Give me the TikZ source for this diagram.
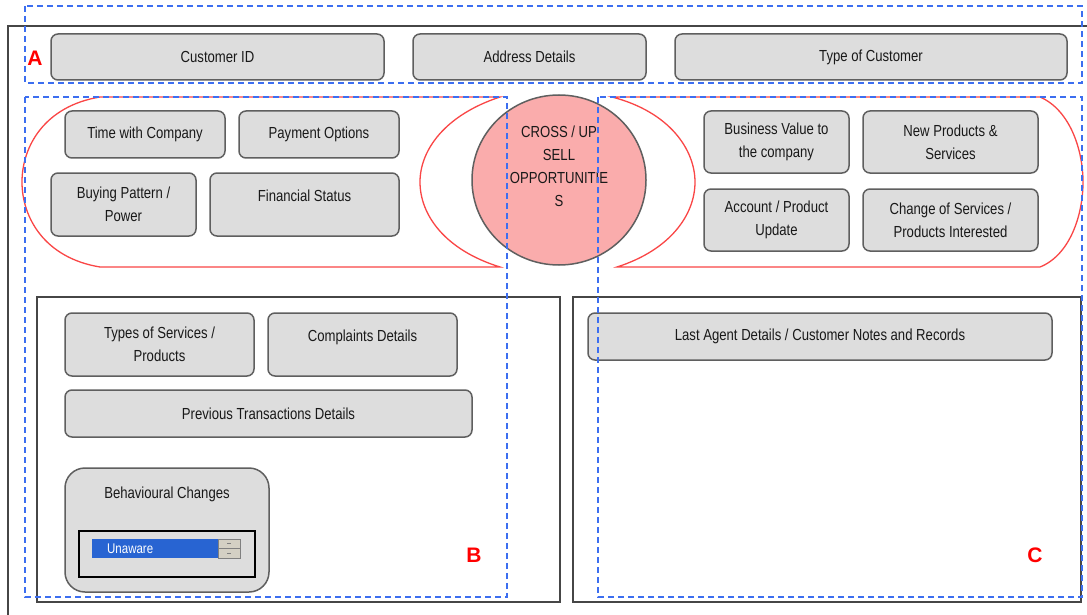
\documentclass[tikz,border=0pt]{standalone}
\usepackage{fontspec}
\setmainfont{Liberation Sans}[FakeStretch=0.82]
\newfontfamily\labfont{Liberation Sans}
\usetikzlibrary{shapes.geometric}
\definecolor{boxfill}{RGB}{221,221,221}
\definecolor{boxline}{RGB}{95,95,95}
\definecolor{dashblue}{RGB}{60,110,240}
\definecolor{redline}{RGB}{250,70,70}
\definecolor{circfill}{RGB}{250,172,172}
\definecolor{txtgray}{RGB}{25,25,25}
\definecolor{selblue}{RGB}{40,100,210}
\definecolor{spinfill}{RGB}{212,208,196}
\definecolor{panelline}{RGB}{70,70,70}
\begin{document}
\begin{tikzpicture}[x=1pt,y=-1pt,
  gbox/.style={draw=boxline, fill=boxfill, line width=1.5pt, rounded corners=7pt,
    inner sep=0pt, text=txtgray, font=\fontsize{16}{23}\selectfont, align=center},
  txt/.style={text=txtgray, font=\fontsize{16}{23}\selectfont, align=center, inner sep=0pt},
  dashbox/.style={draw=dashblue, line width=1.2pt, dash pattern=on 6pt off 4pt},
  redshape/.style={draw=redline, line width=1.3pt},
  panel/.style={draw=panelline, line width=1.4pt},
  redlab/.style={text=red, font=\labfont\bfseries\fontsize{21}{21}\selectfont, inner sep=0pt}]
\useasboundingbox (0,0) rectangle (1087,615);
\fill[white] (0,0) rectangle (1087,615);
% outer frame
\draw[panel] (8,615) -- (8,26) -- (1087,26);
% red shapes
\draw[redshape] (100,97) -- (500,97)
  .. controls (445,115) and (420,150) .. (420,182)
  .. controls (420,215) and (445,250) .. (500,267)
  -- (100,267)
  .. controls (45,258) and (22,218) .. (22,182)
  .. controls (22,146) and (45,106) .. (100,97) -- cycle;
\draw[redshape] (612,97) -- (1040,97)
  .. controls (1070,110) and (1083,150) .. (1083,182)
  .. controls (1083,215) and (1070,255) .. (1040,267)
  -- (617,267)
  .. controls (670,250) and (695,215) .. (695,182)
  .. controls (695,150) and (670,112) .. (612,97) -- cycle;
% panels
\draw[panel] (37,297) rectangle (560,602);
\draw[panel] (573,297) rectangle (1081,602);
% top row
\node[gbox, minimum width=333pt, minimum height=46pt] (cid) at (217.5,57) {Customer ID};
\node[gbox, minimum width=233pt, minimum height=46pt] (addr) at (529.5,57) {Address Details};
\node[gbox, minimum width=392pt, minimum height=46pt] (toc) at (871,57) {Type of Customer};
% left group
\node[gbox, minimum width=160pt, minimum height=47pt] (twc) at (145,134.5) {Time with Company};
\node[gbox, minimum width=160pt, minimum height=47pt] (pay) at (319,134.5) {Payment Options};
\node[gbox, minimum width=145pt, minimum height=63pt] (buy) at (123.5,204.5) {Buying Pattern /\\Power};
\node[gbox, minimum width=189pt, minimum height=63pt] (fin) at (304.5,204.5) {};
\node[txt] (fint) at (304.5,196) {Financial Status};
% right group
\node[gbox, minimum width=145pt, minimum height=62pt] (bv) at (776.5,142) {Business Value to\\the company};
\node[gbox, minimum width=175pt, minimum height=62pt] (np) at (950.5,142) {New Products \&\\Services};
\node[gbox, minimum width=145pt, minimum height=62pt] (ap) at (776.5,220) {Account / Product\\Update};
\node[gbox, minimum width=175pt, minimum height=62pt] (cs) at (950.5,220) {Change of Services /\\Products Interested};
% circle
\node[ellipse, draw=boxline, line width=1.5pt, fill=circfill, minimum width=174pt, minimum height=170pt, inner sep=0pt] (circ) at (559,180) {};
\node[txt] (circt) at (559,166) {CROSS / UP\\SELL\\OPPORTUNITIE\\S};
% panel B
\node[gbox, minimum width=189pt, minimum height=63pt] (tos) at (159.5,344.5) {Types of Services /\\Products};
\node[gbox, minimum width=189pt, minimum height=63pt] (comp) at (362.5,344.5) {};
\node[txt] (compt) at (362.5,337) {Complaints Details};
\node[gbox, minimum width=407pt, minimum height=47pt] (prev) at (268.5,413.5) {Previous Transactions Details};
\node[gbox, rounded corners=20pt, minimum width=204pt, minimum height=124pt] (beh) at (167,530) {};
\node[txt] (beht) at (167,494) {Behavioural Changes};
\node[draw=black, line width=1.4pt, fill=boxfill, minimum width=176pt, minimum height=46pt, inner sep=0pt] (inbox) at (167,554) {};
\node[fill=selblue, minimum width=126pt, minimum height=19pt, inner sep=0pt] (sel) at (155,548.5) {};
\node[anchor=west, text=white, font=\fontsize{14}{14}\selectfont, inner sep=0pt] (selt) at (107,549) {Unaware};
\node[draw=gray, fill=spinfill, line width=0.5pt, minimum width=22pt, minimum height=9.5pt, inner sep=0pt] (spu) at (229,543.75) {};
\node[draw=gray, fill=spinfill, line width=0.5pt, minimum width=22pt, minimum height=9.5pt, inner sep=0pt] (spd) at (229,553.25) {};
\draw[gray, line width=0.6pt] ([xshift=-2pt]spu.center) -- ([xshift=2pt]spu.center);
\draw[gray, line width=0.6pt] ([xshift=-2pt]spd.center) -- ([xshift=2pt]spd.center);
% panel C
\node[gbox, minimum width=464pt, minimum height=47pt] (last) at (820,336.5) {Last Agent Details / Customer Notes and Records};
% red labels
\node[redlab] (la) at (35,58) {A};
\node[redlab] (lb) at (474,555) {B};
\node[redlab] (lc) at (1035,555) {C};
% dashed regions
\draw[dashbox] (25,6) rectangle (1082,83);
\draw[dashbox] (25,97) rectangle (507,597);
\draw[dashbox] (598,97) rectangle (1082,597);
\end{tikzpicture}
\end{document}
